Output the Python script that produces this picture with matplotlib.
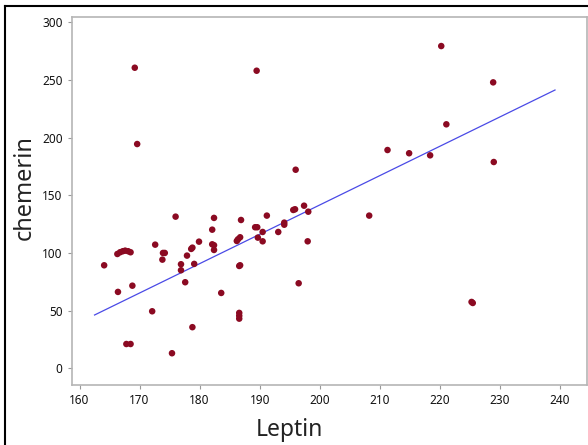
"""Leptin vs chemerin scatter with fitted line."""
import matplotlib
matplotlib.use("Agg")
import matplotlib.pyplot as plt
from matplotlib.lines import Line2D

plt.rcParams["font.family"] = ["Noto Sans", "DejaVu Sans"]

leptin = [169.2, 189.5, 169.6, 196.0, 220.25, 228.9, 221.1, 211.3, 214.9, 218.4,
          229.0, 208.25, 225.5, 225.3, 164.1, 166.4, 168.8, 166.3, 166.75, 167.2,
          167.6, 168.1, 168.5, 167.8, 168.5, 172.6, 173.9, 174.2, 173.8, 172.1,
          175.4, 176.0, 176.9, 176.9, 177.6, 177.9, 178.6, 178.8, 179.1, 178.8,
          179.9, 182.4, 182.1, 182.1, 182.4, 182.4, 183.6, 186.9, 186.2, 186.4,
          186.75, 186.6, 186.75, 186.6, 186.6, 186.6, 189.25, 189.6, 189.7, 190.5,
          190.5, 191.2, 193.1, 194.1, 194.1, 196.5, 195.6, 195.9, 197.4, 198.1,
          198.0]
chemerin = [260.7, 258.1, 194.5, 172.2, 279.5, 248.0, 211.6, 189.3, 186.5, 184.7,
            178.9, 132.4, 56.6, 57.5, 89.3, 66.2, 71.6, 99.1, 100.6, 101.5,
            102.0, 101.5, 100.6, 21.0, 21.0, 107.2, 100.0, 100.0, 94.2, 49.4,
            13.0, 131.5, 90.2, 85.0, 74.6, 97.7, 103.5, 104.6, 90.5, 35.6,
            109.8, 130.4, 120.2, 107.5, 106.7, 102.6, 65.3, 128.6, 110.4, 111.9,
            113.6, 88.7, 89.3, 48.0, 45.5, 43.0, 122.3, 122.3, 113.3, 118.2,
            110.1, 132.4, 118.2, 126.3, 124.5, 73.7, 137.3, 137.9, 141.0, 135.8,
            110.1]

# fitted line
fit_slope, fit_intercept = 2.545, -367.4
fit_range = [162.5, 239.2]

fig = plt.figure(figsize=(5.88, 4.45), dpi=100)
ax = fig.add_axes([0.122, 0.135, 0.876, 0.826])

ax.scatter(leptin, chemerin, s=22, color="#8B0A22", edgecolor="none", zorder=3)
ax.plot(fit_range, [fit_slope * x + fit_intercept for x in fit_range],
        color="#4A4AE6", lw=0.9, zorder=2)

ax.set_xlim(158.7, 244.5)
ax.set_ylim(-14.5, 304.4)
ax.set_xticks(range(160, 241, 10))
ax.set_yticks(range(0, 301, 50))
ax.tick_params(labelsize=8.5, colors="#999999", labelcolor="#111111", length=3, width=0.8)
for s in ax.spines.values():
    s.set_color("#b5b5b5")
    s.set_linewidth(1.2)

ax.set_xlabel("Leptin", fontsize=16.5, color="#222222")
ax.xaxis.set_label_coords(0.422, -0.122)
ax.xaxis.label.set_va("center")
ax.set_ylabel("chemerin", fontsize=17, color="#222222")
ax.yaxis.set_label_coords(-0.091, 0.537)
ax.yaxis.label.set_va("center")

# screenshot border on top and left
fig.add_artist(Line2D([0.008, 1.0], [0.987, 0.987], color="black", lw=1.5))
fig.add_artist(Line2D([0.008, 0.008], [0.0, 0.987], color="black", lw=1.5))

fig.savefig("out.png", facecolor="white")
